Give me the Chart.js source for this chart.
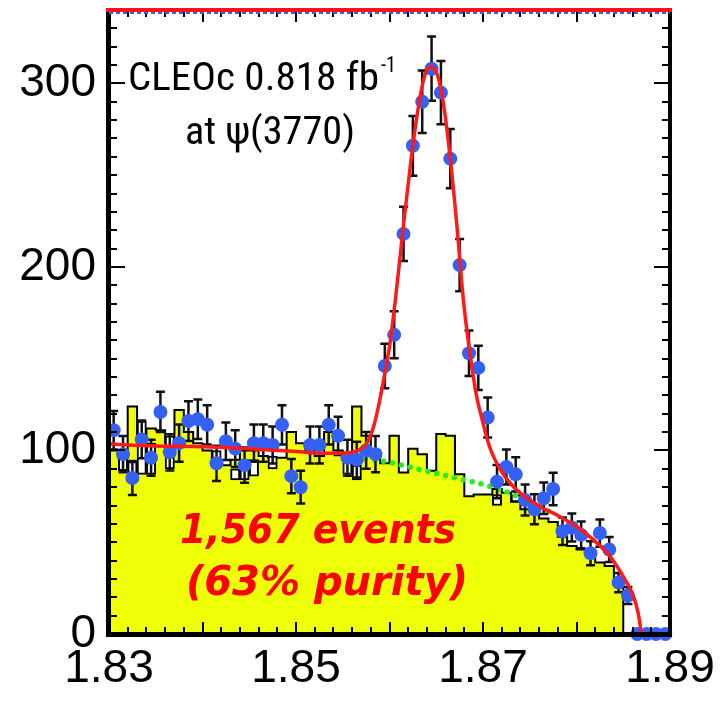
<!DOCTYPE html>
<html>
<head>
<meta charset="utf-8">
<script src="https://cdn.jsdelivr.net/npm/chart.js@4/dist/chart.umd.min.js"></script>
<style>
html,body{margin:0;padding:0;background:#fff;}
#wrap{width:723px;height:701px;position:relative;}
</style>
</head>
<body>
<div id="wrap"><canvas id="c" width="723" height="701"></canvas></div>
<script>
// ---- data ----
const binCenters = [1.8305,1.8315,1.8325,1.8335,1.8345,1.8355,1.8365,1.8375,1.8385,1.8395,
  1.8405,1.8415,1.8425,1.8435,1.8445,1.8455,1.8465,1.8475,1.8485,1.8495,
  1.8505,1.8515,1.8525,1.8535,1.8545,1.8555,1.8565,1.8575,1.8585,1.8595,
  1.8605,1.8615,1.8625,1.8635,1.8645,1.8655,1.8665,1.8675,1.8685,1.8695,
  1.8705,1.8715,1.8725,1.8735,1.8745,1.8755,1.8765,1.8775,1.8785,1.8795,
  1.8805,1.8815,1.8825,1.8835,1.8845,1.8855,1.8865,1.8875,1.8885,1.8895];
const dataCounts = [111,98,85,106,96,121,99,104,116,117,
  114,93,105,101,92,104,104,103,114,86,
  80,103,103,114,108,96,95,100,98,146,
  163,218,266,290,308,295,259,201,153,145,
  118,83,91,87,73,68,74,79,56,58,
  54,44,55,46,28,21,0,0,0,0];
const dataErrors = [10.5,9.9,9.2,10.3,9.8,11,9.9,10.2,10.8,10.8,
  10.7,9.6,10.2,10,9.6,10.2,10.2,10.1,10.7,9.3,
  8.9,10.1,10.1,10.7,10.4,9.8,9.7,10,9.9,12.1,
  12.8,14.8,16.3,17,17.5,17.2,16.1,14.2,12.4,12,
  10.9,9.1,9.5,9.3,8.5,8.2,8.6,8.9,7.5,7.6,
  7.3,6.6,7.4,6.8,5.3,4.6,0,0,0,0];
const histCounts = [104,100,96,124,106,112,111,104,122,110,
  104,100,92,92,95,100,100,97,96,96,
  110,104,100,97,110,100,95,124,108,100,
  93,108,88,101,98,89,109,108,87,75,
  76,76,79,77,72,68,67,63,61,53,
  48,46,43,39,37,27,0,0,0,0];
const gapLow  = [null,89,86,87,87,null,90,null,null,null,
  null,94,null,84,84,86,null,90,null,null,
  null,null,null,null,null,87,84,null,null,null,
  null,null,null,null,null,null,null,null,null,null,
  null,70,null,72,null,null,null,null,null,null,
  null,null,null,null,null,null,null,null,null,null];
const gapHigh = [null,100,94,116,104,null,108,null,null,null,
  null,100,null,90,95,95,null,97,null,null,
  null,null,null,null,null,95,92,null,null,null,
  null,null,null,null,null,null,null,null,null,null,
  null,76,null,76,null,null,null,null,null,null,
  null,null,null,null,null,null,null,null,null,null];
const fitX = [1.830,1.835,1.840,1.845,1.850,1.853,1.855,1.856,1.857,1.8577,1.8583,1.8589,1.8595,
  1.8601,1.8608,1.8615,1.8622,1.8629,1.8636,1.8643,1.8651,1.8658,1.8665,1.8672,1.8679,1.8686,
  1.8693,1.8699,1.8707,1.8718,1.8732,1.8747,1.8764,1.8782,1.8800,1.8818,1.8836,1.8850,1.8861,
  1.8866,1.88685,1.8869];
const fitY = [103.5,102.5,102,101,99.5,98.5,98.5,99,101,105,113,126,142,
  160,190,223,254,281,301,309,305,288,259,223,182,153,
  130,117,102,90,80.5,74,68.7,64,58.6,51.4,42.2,31.3,20.4,
  11.3,3,0];
const bkgX = [1.8555,1.8575,1.8600,1.8625,1.8650,1.8675,1.8700,1.8725,1.8750,1.8770];
const bkgY = [97,95.5,93.5,90.5,87.5,84.5,81.5,77.5,72,67];
const xTickLabels = [1.83,1.85,1.87,1.89];
const yTickLabels = [0,100,200,300];
const binWidth = 0.001;

// ---- tables built from the arrays ----
const histSteps = binCenters.map((c,i)=>({x:c-binWidth/2, y:histCounts[i]}));
histSteps.push({x:binCenters[binCenters.length-1]+binWidth/2, y:histCounts[histCounts.length-1]});
const gapBars = binCenters.map((c,i)=>({x:c, y:(gapLow[i]===null?null:[gapLow[i],gapHigh[i]])}));
const pts = binCenters.map((c,i)=>({x:c, y:dataCounts[i]}));
const fitPts = fitX.map((v,i)=>({x:v, y:fitY[i]}));
const bkgPts = bkgX.map((v,i)=>({x:v, y:bkgY[i]}));

const errorBarPlugin = {
  id:'errbars',
  beforeDatasetDraw(chart, args){
    if (chart.data.datasets[args.index].id !== 'points') return;
    const {ctx, scales:{x,y}} = chart;
    ctx.save();
    ctx.strokeStyle = '#111';
    ctx.lineWidth = 2.5;
    binCenters.forEach((c,i)=>{
      const e = dataErrors[i];
      if (!e) return;
      const px = x.getPixelForValue(c);
      const y1 = y.getPixelForValue(dataCounts[i]-e);
      const y2 = y.getPixelForValue(dataCounts[i]+e);
      ctx.beginPath();
      ctx.moveTo(px,y1); ctx.lineTo(px,y2);
      ctx.moveTo(px-4.5,y1); ctx.lineTo(px+4.5,y1);
      ctx.moveTo(px-4.5,y2); ctx.lineTo(px+4.5,y2);
      ctx.stroke();
    });
    ctx.restore();
  }
};

const framePlugin = {
  id:'frame',
  afterDatasetsDraw(chart){
    const {ctx, chartArea:a, scales:{x,y}} = chart;
    ctx.save();
    ctx.strokeStyle = '#000';
    ctx.lineWidth = 2;
    ctx.beginPath();
    for (let i=0;i<=30;i++){
      const v = 1.83 + i*0.002;
      const px = Math.round(x.getPixelForValue(v));
      const len = (i%5===0) ? 12 : 7;
      ctx.moveTo(px,a.bottom); ctx.lineTo(px,a.bottom-len);
      ctx.moveTo(px,a.top); ctx.lineTo(px,a.top+len);
    }
    for (let v=10; v<=340; v+=10){
      const py = Math.round(y.getPixelForValue(v));
      const len = (v%100===0) ? 16 : 8;
      ctx.moveTo(a.left,py); ctx.lineTo(a.left+len,py);
      ctx.moveTo(a.right,py); ctx.lineTo(a.right-len,py);
    }
    ctx.stroke();
    ctx.fillStyle = '#000';
    ctx.fillRect(a.left-3, a.top, 5, a.bottom-a.top+3);
    ctx.fillRect(a.left-3, a.bottom-2, a.right-a.left+5, 5);
    ctx.fillRect(a.right-2, a.top, 4, a.bottom-a.top+3);
    // top edge: clipped fit line and points
    ctx.strokeStyle = '#3a5cff';
    ctx.lineWidth = 2;
    ctx.setLineDash([4,3]);
    ctx.beginPath(); ctx.moveTo(a.left, a.top+3); ctx.lineTo(a.right, a.top+3); ctx.stroke();
    ctx.setLineDash([]);
    ctx.fillStyle = '#ff1414';
    ctx.fillRect(a.left-3, a.top-2, a.right-a.left+5, 4);
    ctx.restore();
  }
};

function fitText(ctx, text, x, y, w, font){
  ctx.font = font;
  const m = ctx.measureText(text).width;
  ctx.save();
  ctx.translate(x,y);
  ctx.scale(w/m,1);
  ctx.fillText(text,0,0);
  ctx.restore();
}

const textPlugin = {
  id:'labels',
  afterDraw(chart){
    const ctx = chart.ctx;
    ctx.save();
    ctx.textBaseline = 'alphabetic';
    ctx.textAlign = 'left';
    ctx.fillStyle = '#000';
    const narrow = "'Liberation Sans Narrow','Roboto Condensed','DejaVu Sans Condensed','Liberation Sans',sans-serif";
    fitText(ctx, 'CLEOc 0.818 fb', 128, 90, 251, '38px ' + narrow);
    fitText(ctx, '-1', 381, 72, 15, '22px ' + narrow);
    fitText(ctx, 'at \u03c8(3770)', 185, 144, 170, '38px ' + narrow);
    ctx.fillStyle = '#ff0000';
    const bold = "italic bold 40px 'DejaVu Sans',Verdana,sans-serif";
    fitText(ctx, '1,567 events', 180, 543, 276, bold);
    fitText(ctx, '(63% purity)', 186, 595, 282, bold);
    ctx.restore();
  }
};

new Chart(document.getElementById('c'), {
  type:'scatter',
  data:{
    datasets:[
      { id:'fit', type:'line', data:fitPts, borderColor:'#ff1a1a', borderWidth:3.5,
        pointRadius:0, cubicInterpolationMode:'monotone', fill:false, order:1 },
      { id:'points', type:'scatter', data:pts, backgroundColor:'#3560f5', borderWidth:0,
        pointRadius:7, clip:false, order:2 },
      { id:'bkg', type:'line', data:bkgPts, borderColor:'#22f022', borderWidth:5.5,
        borderDash:[0.1,9], borderCapStyle:'round', pointRadius:0,
        cubicInterpolationMode:'monotone', fill:false, order:4 },
      { id:'gaps', type:'bar', data:gapBars, backgroundColor:'#ffffff', borderColor:'#000',
        borderWidth:2, borderSkipped:false, barPercentage:1, categoryPercentage:1,
        grouped:false, order:5 },
      { id:'hist', type:'line', data:histSteps, stepped:'after', borderColor:'#000',
        borderWidth:2, backgroundColor:'#eeff08', fill:'origin', pointRadius:0, order:6 }
    ]
  },
  options:{
    responsive:false,
    animation:false,
    devicePixelRatio:1,
    layout:{ padding:{ top:10, right:53, left:0, bottom:0 } },
    plugins:{ legend:{display:false}, tooltip:{enabled:false} },
    scales:{
      x:{ type:'linear', min:1.83, max:1.89, offset:false,
        afterBuildTicks:(s)=>{ s.ticks = xTickLabels.map(v=>({value:v})); },
        afterFit:(s)=>{ s.height = 67; s.paddingLeft = 0; s.paddingRight = 0; },
        grid:{display:false, drawTicks:false}, border:{display:false},
        ticks:{ callback:(v)=>Number(v).toFixed(2), color:'#000', padding:8,
          maxRotation:0, autoSkip:false, font:{family:"'Liberation Sans',Arial,sans-serif", size:46} } },
      y:{ type:'linear', min:0, max:340,
        afterBuildTicks:(s)=>{ s.ticks = yTickLabels.map(v=>({value:v})); },
        afterFit:(s)=>{ s.width = 109; s.paddingTop = 0; s.paddingBottom = 0; },
        grid:{display:false, drawTicks:false}, border:{display:false},
        ticks:{ color:'#000', padding:13,
          font:{family:"'Liberation Sans',Arial,sans-serif", size:46} } }
    }
  },
  plugins:[errorBarPlugin, framePlugin, textPlugin]
});
</script>
</body>
</html>
